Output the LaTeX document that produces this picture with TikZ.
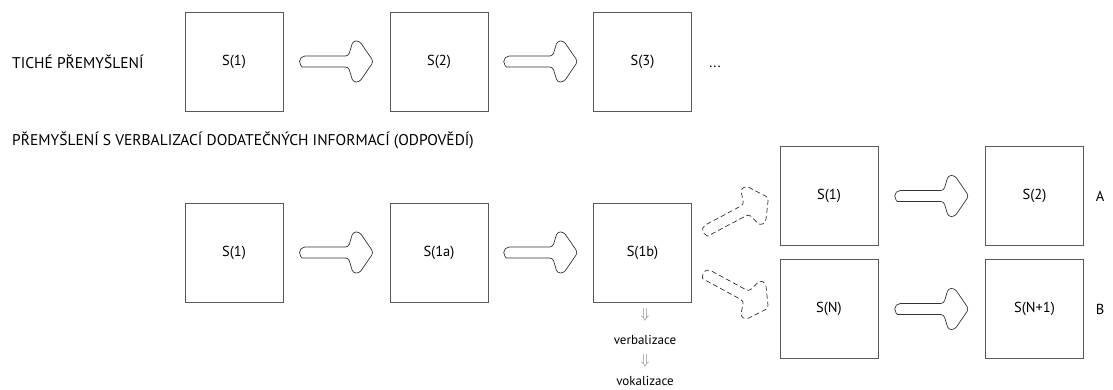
\documentclass[tikz,border=0pt]{standalone}
\usepackage{fontspec}
\setmainfont{PT Sans}
\usepackage{tikz}
\usetikzlibrary{positioning,calc}

\definecolor{boxgray}{HTML}{5A5A5A}
\definecolor{arrgray}{HTML}{333333}

\tikzset{
  stbox/.style={draw=boxgray, line width=0.8pt, minimum width=98pt, minimum height=99pt, inner sep=0pt},
  lbl/.style={inner sep=0pt, anchor=west, font=\fontsize{15.5}{18}\selectfont},
  downsym/.style={text=gray, inner sep=0pt, font=\fontsize{15}{17}\selectfont},
  blockarr/.pic={
    \draw[draw=arrgray, line width=0.7pt]
      (-31.5,-5.5) arc[start angle=270, end angle=90, radius=5.5]
      [rounded corners=3pt] -- (12,5.5) -- (16.5,20.5) -- (23,20.5) -- (37,0)
      -- (23,-20.5) -- (16.5,-20.5) -- (12,-5.5) -- cycle;
  }
}

\begin{document}
\begin{tikzpicture}[x=1pt, y=1pt, font=\fontsize{14.5}{17}\selectfont]
    \useasboundingbox (0,0) rectangle (1113,389);
    % silent thinking
    \node[lbl] (tlabel) at (12,327) {TICHÉ PŘEMYŠLENÍ};
    \foreach \name/\lab/\x in {t1/S(1)/234, t2/S(2)/439, t3/S(3)/642.5} {
      \node[stbox] (\name) at (\x,327.5) {\lab};
    }
    \node (tdots) at (715,322) {...};
    \path (t1) -- (t2) pic[pos=.5]{blockarr};
    \path (t2) -- (t3) pic[pos=.5]{blockarr};

    % thinking with verbalization
    \node[lbl] (vlabel) at (12,249) {PŘEMYŠLENÍ S VERBALIZACÍ DODATEČNÝCH INFORMACÍ (ODPOVĚDÍ)};
    \foreach \name/\lab/\x in {v1/S(1)/234, va/S(1a)/439, vb/S(1b)/642.5} {
      \node[stbox] (\name) at (\x,136.5) {\lab};
    }
    \node[stbox] (ua) at (829,193) {S(1)};
    \node[stbox] (ub) at (1034.5,193) {S(2)};
    \node[stbox] (la) at (829,80) {S(N)};
    \node[stbox] (lb) at (1034.5,80) {S(N+1)};
    \node (endA) at (1100,193) {A};
    \node (endB) at (1100,80) {B};
    \path (v1) -- (va) pic[pos=.5]{blockarr};
    \path (va) -- (vb) pic[pos=.5]{blockarr};
    \path (ua) -- (ub) pic[pos=.5]{blockarr};
    \path (la) -- (lb) pic[pos=.5]{blockarr};
    \path (vb.16) -- (ua.175) pic[pos=.5, sloped, dash pattern=on 5pt off 3pt]{blockarr};
    \path (vb.-16) -- (la.186) pic[pos=.5, sloped, dash pattern=on 5pt off 3pt]{blockarr};

    % below S(1b)
    \node[downsym] (dn1) at (645,74) {$\Downarrow$};
    \node[inner sep=0pt, font=\fontsize{13}{15}\selectfont] (verb) at (645,49) {verbalizace};
    \node[downsym] (dn2) at (645,28) {$\Downarrow$};
    \node[inner sep=0pt, font=\fontsize{13}{15}\selectfont] (vok) at (645,8) {vokalizace};
  \end{tikzpicture}
\end{document}
